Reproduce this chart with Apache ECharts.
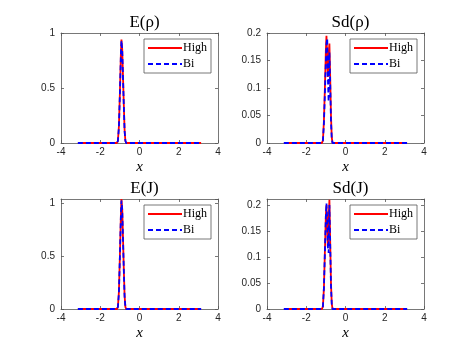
<!DOCTYPE html>
<html>
<head>
    <meta charset="utf-8">
    <title>ECharts</title>
    <script src="https://cdn.jsdelivr.net/npm/echarts@6/dist/echarts.min.js"></script>
    <style>
        * { padding: 0; margin: 0; }
        body { background: #fff; }
    </style>
</head>
<body>
    <div id="main" style="width:468px;height:351px;"></div>
    <script type="text/javascript">
        // panel titles and y axis ranges
        var titles = ['E(\u03c1)', 'Sd(\u03c1)', 'E(J)', 'Sd(J)'];
        var yMax = [1, 0.2, 1.045, 0.2115];
        var yStep = [0.5, 0.05, 0.5, 0.05];
        var xTicks = [-4, 4, 2];

        // sample points
        var xE = [-3.14, -1.15, -1.1, -1.05, -1.0, -0.95, -0.92, -0.88, -0.84, -0.8, -0.76, -0.72, -0.68, 3.14];
        var eRhoHigh = [0, 0, 0.02, 0.15, 0.45, 0.8, 0.94, 0.85, 0.6, 0.35, 0.12, 0.02, 0, 0];
        var eRhoBi   = [0, 0, 0.02, 0.14, 0.44, 0.79, 0.93, 0.84, 0.59, 0.34, 0.11, 0.02, 0, 0];
        var eJHigh   = [0, 0, 0.02, 0.16, 0.5, 0.88, 1.045, 0.95, 0.67, 0.38, 0.13, 0.02, 0, 0];
        var eJBi     = [0, 0, 0.02, 0.15, 0.49, 0.87, 1.03, 0.94, 0.66, 0.37, 0.12, 0.02, 0, 0];

        var xS = [-3.14, -1.2, -1.15, -1.1, -1.05, -1.0, -0.97, -0.93, -0.9, -0.86, -0.82, -0.78, -0.74, -0.7, -0.66, 3.14];
        var sdRhoHigh = [0, 0, 0.005, 0.04, 0.1, 0.17, 0.195, 0.15, 0.12, 0.16, 0.181, 0.12, 0.05, 0.01, 0, 0];
        var sdRhoBi   = [0, 0, 0.004, 0.035, 0.09, 0.15, 0.18, 0.19, 0.12, 0.075, 0.165, 0.11, 0.04, 0.008, 0, 0];
        var sdJHigh   = [0, 0, 0.005, 0.04, 0.11, 0.18, 0.2, 0.16, 0.12, 0.17, 0.21, 0.13, 0.05, 0.01, 0, 0];
        var sdJBi     = [0, 0, 0.005, 0.04, 0.11, 0.18, 0.203, 0.17, 0.12, 0.108, 0.2, 0.125, 0.045, 0.01, 0, 0];

        var panels = [
            { x: xE, high: eRhoHigh, bi: eRhoBi },
            { x: xS, high: sdRhoHigh, bi: sdRhoBi },
            { x: xE, high: eJHigh, bi: eJBi },
            { x: xS, high: sdJHigh, bi: sdJBi }
        ];

        var boxes = [
            { left: 61, top: 33 },
            { left: 267, top: 33 },
            { left: 61, top: 199 },
            { left: 267, top: 199 }
        ];
        var W = 157, H = 110;
        var axisCol = '#555555';
        var serif = 'Liberation Serif';
        var sans = 'Liberation Sans';

        function zip(xs, ys) {
            return xs.map(function (x, i) { return [x, ys[i]]; });
        }

        var grid = [], xAxis = [], yAxis = [], series = [], title = [], legend = [];
        boxes.forEach(function (b, g) {
            grid.push({ left: b.left, top: b.top, width: W, height: H, containLabel: false });
            title.push({
                text: titles[g], left: b.left + W / 2, top: b.top - 24, textAlign: 'center',
                textStyle: { fontFamily: serif, fontSize: 17, fontWeight: 'normal', color: '#000' }
            });
            legend.push({
                data: ['High', 'Bi'], orient: 'vertical', left: b.left + 83, top: b.top + 6,
                itemWidth: 34, itemHeight: 10, itemGap: 4,
                padding: [3, 4, 3, 3],
                itemStyle: { opacity: 0 },
                backgroundColor: '#fff', borderColor: axisCol, borderWidth: 0.8,
                textStyle: { fontFamily: serif, fontSize: 12, color: '#000', padding: [0, 0, 0, -4] }
            });
            var lineCommon = { show: true, onZero: false, lineStyle: { color: axisCol, width: 0.8 } };
            var tickCommon = { show: true, inside: true, length: 3, lineStyle: { color: axisCol, width: 0.8 } };
            xAxis.push({
                type: 'value', gridIndex: g, position: 'bottom',
                min: xTicks[0], max: xTicks[1], interval: xTicks[2],
                name: 'x', nameLocation: 'middle', nameGap: 17,
                nameTextStyle: { fontFamily: serif, fontStyle: 'italic', fontSize: 15, color: '#000' },
                axisLine: lineCommon, axisTick: tickCommon,
                axisLabel: { fontFamily: sans, fontSize: 10, color: '#262626', margin: 4 },
                splitLine: { show: false }
            });
            xAxis.push({
                type: 'value', gridIndex: g, position: 'top',
                min: xTicks[0], max: xTicks[1], interval: xTicks[2],
                axisLine: lineCommon, axisTick: tickCommon,
                axisLabel: { show: false }, splitLine: { show: false }
            });
            var exact = Math.abs(yMax[g] / yStep[g] - Math.round(yMax[g] / yStep[g])) < 1e-9;
            yAxis.push({
                type: 'value', gridIndex: g, position: 'left',
                min: 0, max: yMax[g], interval: yStep[g],
                axisLine: lineCommon, axisTick: tickCommon,
                axisLabel: { fontFamily: sans, fontSize: 10, color: '#262626', margin: 6, showMaxLabel: exact },
                splitLine: { show: false }
            });
            yAxis.push({
                type: 'value', gridIndex: g, position: 'right',
                min: 0, max: yMax[g], interval: yStep[g],
                axisLine: lineCommon, axisTick: tickCommon,
                axisLabel: { show: false }, splitLine: { show: false }
            });
            var p = panels[g];
            series.push({
                name: 'High', type: 'line', xAxisIndex: g * 2, yAxisIndex: g * 2,
                data: zip(p.x, p.high), symbol: 'none', showSymbol: false,
                lineStyle: { color: '#ff0000', width: 1.8 }, itemStyle: { color: '#ff0000' }
            });
            series.push({
                name: 'Bi', type: 'line', xAxisIndex: g * 2, yAxisIndex: g * 2,
                data: zip(p.x, p.bi), symbol: 'none', showSymbol: false,
                lineStyle: { color: '#0000ff', width: 1.8, type: [5, 3] }, itemStyle: { color: '#0000ff' }
            });
        });

        var myChart = echarts.init(document.getElementById('main'));
        myChart.setOption({
            backgroundColor: '#fff',
            animation: false,
            title: title,
            legend: legend,
            grid: grid,
            xAxis: xAxis,
            yAxis: yAxis,
            series: series
        });
    </script>
</body>
</html>
